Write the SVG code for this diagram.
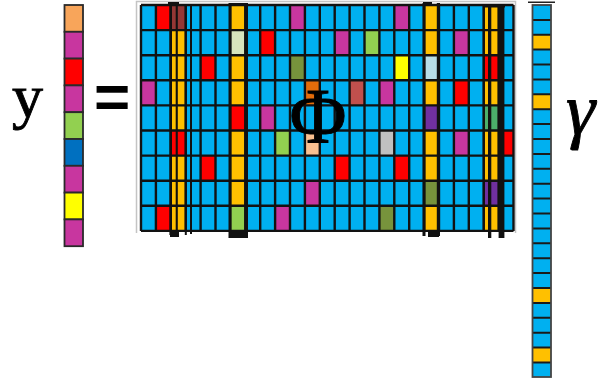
<svg xmlns="http://www.w3.org/2000/svg" width="603" height="385" viewBox="0 0 603 385">
<style>
.lbl{font-family:"Liberation Serif","Times New Roman",serif;fill:#000;stroke:#000;stroke-width:0.9}
.grid{fill:none;stroke:#121212;stroke-width:2.4;vector-effect:non-scaling-stroke}
.vcell{stroke:#2a2a2a;stroke-width:1.8}
.blk{fill:#111}
</style>
<rect width="603" height="385" fill="#fff"/>

<g id="label-y"><text class="lbl" x="12" y="117" font-size="62">y</text></g>
<g id="equals"><text x="94" y="118" font-family="Liberation Sans, Arial, sans-serif" font-weight="bold" font-size="62">=</text></g>

<g id="vector-y">
<rect class="vcell" x="64.5" y="5" width="18.5" height="26.8" fill="#f8a55a"/>
<rect class="vcell" x="64.5" y="31.8" width="18.5" height="26.8" fill="#c8369f"/>
<rect class="vcell" x="64.5" y="58.6" width="18.5" height="26.8" fill="#ff0000"/>
<rect class="vcell" x="64.5" y="85.4" width="18.5" height="26.8" fill="#c8369f"/>
<rect class="vcell" x="64.5" y="112.2" width="18.5" height="26.8" fill="#92d050"/>
<rect class="vcell" x="64.5" y="139" width="18.5" height="26.8" fill="#0070c0"/>
<rect class="vcell" x="64.5" y="165.8" width="18.5" height="26.8" fill="#c8369f"/>
<rect class="vcell" x="64.5" y="192.6" width="18.5" height="26.8" fill="#ffff00"/>
<rect class="vcell" x="64.5" y="219.4" width="18.5" height="26.8" fill="#c8369f"/>
</g>

<g id="matrix-frame"><path d="M136.5 233V1.5H515.5V233" fill="none" stroke="#c4c4c4" stroke-width="1.5"/></g>

<g id="matrix" transform="translate(141,5) scale(14.9,25.1)">
<rect width="25" height="9" fill="#00b0f0"/>
<rect x="2" width="1" height="9" fill="#ffc000"/>
<rect x="6" width="1" height="9" fill="#ffc000"/>
<rect x="19" width="1" height="9" fill="#ffc000"/>
<rect x="23" width="1" height="9" fill="#ffc000"/>
<rect x="1" y="0" width="1" height="1" fill="#ff0000"/>
<rect x="2" y="0" width="1" height="1" fill="#953735"/>
<rect x="10" y="0" width="1" height="1" fill="#c8369f"/>
<rect x="17" y="0" width="1" height="1" fill="#c8369f"/>
<rect x="6" y="1" width="1" height="1" fill="#d7e4bd"/>
<rect x="8" y="1" width="1" height="1" fill="#ff0000"/>
<rect x="13" y="1" width="1" height="1" fill="#c8369f"/>
<rect x="15" y="1" width="1" height="1" fill="#92d050"/>
<rect x="21" y="1" width="1" height="1" fill="#c8369f"/>
<rect x="4" y="2" width="1" height="1" fill="#ff0000"/>
<rect x="10" y="2" width="1" height="1" fill="#77933c"/>
<rect x="17" y="2" width="1" height="1" fill="#ffff00"/>
<rect x="19" y="2" width="1" height="1" fill="#b7dee8"/>
<rect x="23" y="2" width="1" height="1" fill="#ff0000"/>
<rect x="0" y="3" width="1" height="1" fill="#c8369f"/>
<rect x="11" y="3" width="1" height="1" fill="#e46c0a"/>
<rect x="14" y="3" width="1" height="1" fill="#c0504d"/>
<rect x="16" y="3" width="1" height="1" fill="#c8369f"/>
<rect x="21" y="3" width="1" height="1" fill="#ff0000"/>
<rect x="6" y="4" width="1" height="1" fill="#ff0000"/>
<rect x="8" y="4" width="1" height="1" fill="#c8369f"/>
<rect x="19" y="4" width="1" height="1" fill="#7030a0"/>
<rect x="23" y="4" width="1" height="1" fill="#4caf6a"/>
<rect x="2" y="5" width="1" height="1" fill="#ff0000"/>
<rect x="9" y="5" width="1" height="1" fill="#92d050"/>
<rect x="11" y="5" width="1" height="1" fill="#fac090"/>
<rect x="16" y="5" width="1" height="1" fill="#c0c0c0"/>
<rect x="21" y="5" width="1" height="1" fill="#c8369f"/>
<rect x="24" y="5" width="1" height="1" fill="#ff0000"/>
<rect x="4" y="6" width="1" height="1" fill="#ff0000"/>
<rect x="13" y="6" width="1" height="1" fill="#ff0000"/>
<rect x="17" y="6" width="1" height="1" fill="#ff0000"/>
<rect x="11" y="7" width="1" height="1" fill="#c8369f"/>
<rect x="19" y="7" width="1" height="1" fill="#77933c"/>
<rect x="23" y="7" width="1" height="1" fill="#7030a0"/>
<rect x="1" y="8" width="1" height="1" fill="#ff0000"/>
<rect x="6" y="8" width="1" height="1" fill="#92d050"/>
<rect x="9" y="8" width="1" height="1" fill="#c8369f"/>
<rect x="16" y="8" width="1" height="1" fill="#77933c"/>
<path class="grid" d="M0 0V9M1 0V9M2 0V9M3 0V9M4 0V9M5 0V9M6 0V9M7 0V9M8 0V9M9 0V9M10 0V9M11 0V9M12 0V9M13 0V9M14 0V9M15 0V9M16 0V9M17 0V9M18 0V9M19 0V9M20 0V9M21 0V9M22 0V9M23 0V9M24 0V9M25 0V9M0 0H25M0 1H25M0 2H25M0 3H25M0 4H25M0 5H25M0 6H25M0 7H25M0 8H25M0 9H25"/>
</g>

<g id="column-highlights">
<rect class="blk" x="169.4" y="3" width="2.4" height="232"/>
<rect class="blk" x="175.7" y="3" width="2.1" height="233"/>
<rect class="blk" x="184.8" y="5" width="2" height="230"/>
<rect class="blk" x="190" y="5" width="2" height="229"/>
<rect class="blk" x="168" y="2" width="11" height="3.5"/>
<rect class="blk" x="170" y="230" width="9" height="7"/>
<rect class="blk" x="228.5" y="3" width="2.6" height="235"/>
<rect class="blk" x="244.5" y="3" width="3.5" height="235"/>
<rect class="blk" x="229" y="3" width="16" height="2.5"/>
<rect class="blk" x="229" y="231" width="19" height="7"/>
<rect class="blk" x="422.5" y="3" width="3" height="233"/>
<rect class="blk" x="436.8" y="3" width="3.2" height="233"/>
<rect class="blk" x="423" y="2" width="9" height="3"/>
<rect class="blk" x="428" y="231" width="11" height="6"/>
<rect class="blk" x="482.8" y="4" width="2" height="228"/>
<rect class="blk" x="488" y="4" width="3.3" height="234"/>
<rect class="blk" x="498.6" y="4" width="5.8" height="234"/>
<rect class="blk" x="483" y="4" width="22" height="3.5"/>
</g>

<g id="label-phi"><text class="lbl" x="318" y="142" font-size="78" text-anchor="middle">Φ</text></g>

<g id="vector-gamma">
<rect x="528" y="1.5" width="27" height="1.5" fill="#222"/>
<rect x="532.5" y="5" width="18.5" height="372" fill="#00b0f0"/>
<rect x="532.5" y="34.8" width="18.5" height="14.9" fill="#ffc000"/>
<rect x="532.5" y="94.4" width="18.5" height="14.9" fill="#ffc000"/>
<rect x="532.5" y="288.1" width="18.5" height="14.9" fill="#ffc000"/>
<rect x="532.5" y="347.7" width="18.5" height="14.9" fill="#ffc000"/>
<path d="M532.5 19.9H551M532.5 34.8H551M532.5 49.6H551M532.5 64.5H551M532.5 79.4H551M532.5 94.3H551M532.5 109.2H551M532.5 124.1H551M532.5 139H551M532.5 153.9H551M532.5 168.8H551M532.5 183.7H551M532.5 198.6H551M532.5 213.5H551M532.5 228.4H551M532.5 243.3H551M532.5 258.2H551M532.5 273.1H551M532.5 288H551M532.5 302.9H551M532.5 317.8H551M532.5 332.7H551M532.5 347.6H551M532.5 362.5H551" stroke="#1a1a1a" stroke-width="2" fill="none"/>
<rect x="532.5" y="5" width="18.5" height="372" fill="none" stroke="#444" stroke-width="1.8"/>
</g>

<g id="label-gamma"><text class="lbl" x="566" y="134" font-size="74" font-style="italic">γ</text></g>
</svg>
